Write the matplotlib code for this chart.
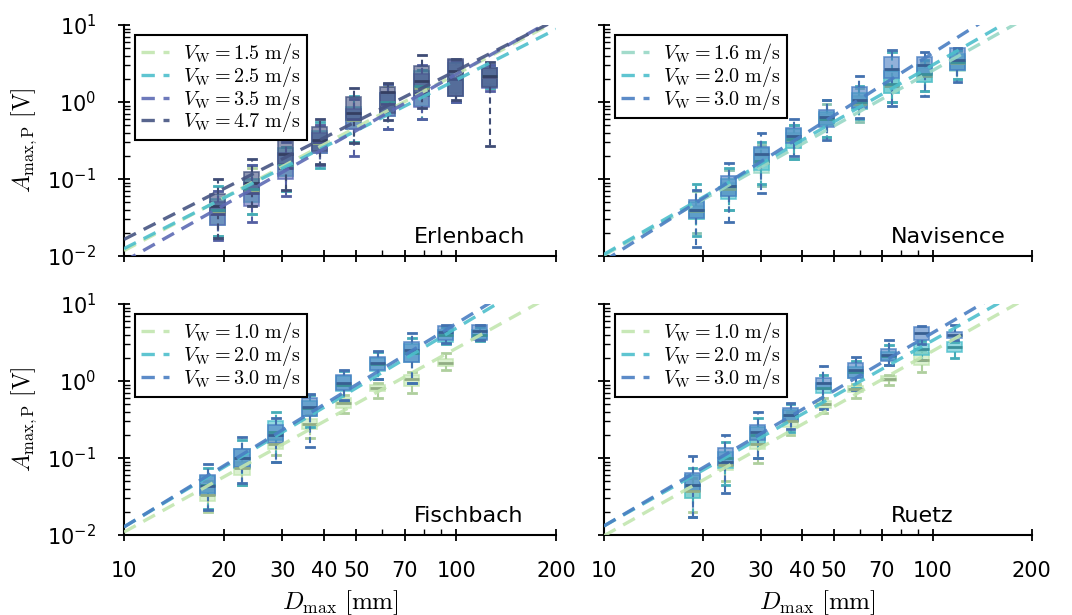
import numpy as np
import matplotlib
matplotlib.use("Agg")
import matplotlib.pyplot as plt
from matplotlib.colors import to_rgba
from matplotlib.font_manager import FontProperties
from matplotlib.ticker import FixedLocator, FixedFormatter, NullFormatter, LogLocator

plt.rcParams['font.family'] = ['DejaVu Sans']
plt.rcParams['mathtext.fontset'] = 'dejavusans'

# grain size class positions [mm] per site
erl_d = [19.2, 24.3, 30.7, 38.9, 49.2, 62.3, 78.9, 99.8, 126.4]
nav_d = [19.1, 24.0, 30.1, 37.8, 47.6, 59.8, 75.2, 94.5, 118.8]
fis_d = [17.9, 22.7, 28.7, 36.3, 46.0, 58.2, 73.7, 93.3, 118.1]
rue_d = [18.6, 23.4, 29.4, 37.0, 46.5, 58.5, 73.6, 92.6, 116.5]

# box stats: (whislo, q1, med, q3, whishi) in V, None = no data
erl_15 = [(0.018, 0.026, 0.036, 0.05, 0.07), (0.035, 0.05, 0.07, 0.1, 0.14), (0.07, 0.11, 0.15, 0.22, 0.26),
          (0.15, 0.22, 0.29, 0.4, 0.5), (0.3, 0.45, 0.58, 0.8, 1.1), (0.45, 0.65, 0.95, 1.25, 1.6),
          (0.6, 0.9, 1.5, 2.3, 2.6), (1.0, 1.3, 2.0, 3.0, 3.3), (1.5, 1.7, 2.1, 2.6, 3.0)]
erl_25 = [(0.018, 0.025, 0.04, 0.055, 0.08), (0.035, 0.05, 0.075, 0.1, 0.15), (0.07, 0.11, 0.15, 0.25, 0.26),
          (0.14, 0.22, 0.3, 0.42, 0.55), (0.3, 0.45, 0.6, 0.85, 1.2), (0.45, 0.65, 1.0, 1.3, 1.7),
          (0.6, 0.9, 1.6, 2.5, 2.6), (1.0, 1.2, 2.0, 3.2, 3.4), (1.5, 1.6, 2.2, 2.8, 3.0)]
erl_35 = [(0.016, 0.025, 0.035, 0.05, 0.07), (0.028, 0.045, 0.065, 0.09, 0.15), (0.06, 0.1, 0.14, 0.22, 0.3),
          (0.15, 0.22, 0.3, 0.4, 0.5), (0.2, 0.45, 0.6, 0.8, 1.1), (0.45, 0.65, 0.95, 1.3, 1.7),
          (0.6, 0.85, 1.3, 2.3, 3.0), (1.0, 1.2, 2.0, 3.5, 3.5), (1.4, 1.5, 2.1, 2.8, 3.0)]
erl_47 = [(0.017, 0.036, 0.045, 0.063, 0.1), (0.045, 0.07, 0.088, 0.123, 0.18), (0.073, 0.155, 0.21, 0.32, 0.35),
          (0.155, 0.23, 0.32, 0.48, 0.6), (0.29, 0.59, 0.73, 1.16, 1.52), (0.59, 0.72, 1.35, 1.58, 1.78),
          (0.84, 1.18, 1.9, 2.9, 4.1), (1.07, 1.18, 2.5, 3.6, 3.6), (0.266, 1.56, 2.2, 2.75, 3.3)]

nav_16 = [(0.02, 0.03, 0.038, 0.045, 0.07), (0.04, 0.06, 0.075, 0.09, 0.13), (0.08, 0.12, 0.16, 0.2, 0.28),
          (0.18, 0.25, 0.32, 0.4, 0.5), (0.35, 0.5, 0.6, 0.7, 0.95), (0.55, 0.8, 0.95, 1.2, 1.5),
          (1.0, 1.3, 1.6, 2.0, 2.6), (1.4, 1.8, 2.2, 2.8, 3.3), (2.0, 2.5, 3.2, 4.0, 4.6)]
nav_20 = [(0.018, 0.03, 0.04, 0.05, 0.085), (0.04, 0.055, 0.08, 0.1, 0.14), (0.085, 0.13, 0.17, 0.25, 0.3),
          (0.18, 0.25, 0.33, 0.45, 0.5), (0.35, 0.5, 0.6, 0.75, 1.05), (0.6, 0.8, 1.0, 1.3, 1.6),
          (1.0, 1.3, 1.7, 2.5, 4.5), (1.4, 1.8, 2.3, 3.0, 3.5), (2.0, 2.6, 3.3, 4.2, 4.7)]
nav_30 = [(0.013, 0.031, 0.04, 0.054, 0.072), (0.028, 0.06, 0.08, 0.11, 0.16), (0.066, 0.16, 0.21, 0.26, 0.4),
          (0.2, 0.29, 0.36, 0.46, 0.6), (0.32, 0.48, 0.63, 0.79, 1.07), (0.62, 0.83, 1.07, 1.56, 2.2),
          (0.9, 2.05, 2.7, 3.9, 4.75), (1.2, 2.3, 3.0, 3.9, 4.4), (1.8, 2.6, 3.5, 5.0, 5.0)]

fis_10 = [(0.02, 0.028, 0.033, 0.04, 0.05), (0.045, 0.06, 0.075, 0.09, 0.1), (0.11, 0.13, 0.15, 0.18, 0.2),
          (0.18, 0.24, 0.28, 0.32, 0.36), (0.38, 0.45, 0.52, 0.6, 0.65), (0.6, 0.75, 0.82, 0.9, 0.95),
          (0.7, 0.85, 1.05, 1.2, 1.3), (1.4, 1.55, 1.7, 1.95, 2.3), None]
fis_20 = [(0.022, 0.035, 0.045, 0.058, 0.075), (0.045, 0.075, 0.1, 0.13, 0.17), (0.09, 0.17, 0.22, 0.3, 0.39),
          (0.25, 0.35, 0.45, 0.55, 0.65), (0.55, 0.75, 0.9, 1.15, 1.35), (1.05, 1.35, 1.65, 2.0, 2.4),
          (0.95, 1.75, 2.3, 3.0, 3.6), (3.0, 3.2, 3.9, 4.6, 5.0), (3.3, 3.5, 4.0, 4.6, 5.0)]
fis_30 = [(0.021, 0.033, 0.043, 0.06, 0.083), (0.048, 0.077, 0.1, 0.13, 0.19), (0.088, 0.155, 0.2, 0.27, 0.33),
          (0.14, 0.35, 0.46, 0.6, 0.68), (0.57, 0.76, 0.93, 1.2, 1.38), (1.05, 1.39, 1.7, 2.07, 2.45),
          (0.93, 1.78, 2.5, 3.2, 4.25), (3.1, 3.4, 4.36, 5.2, 5.3), (3.4, 3.4, 4.4, 5.3, 5.3)]

rue_10 = [(0.02, 0.03, 0.037, 0.045, 0.055), (0.05, 0.07, 0.08, 0.09, 0.1), (0.085, 0.13, 0.15, 0.18, 0.2),
          (0.2, 0.25, 0.3, 0.35, 0.4), (0.38, 0.45, 0.5, 0.55, 0.6), (0.6, 0.72, 0.78, 0.85, 0.92),
          (0.9, 1.0, 1.07, 1.15, 1.2), (1.3, 1.6, 1.9, 2.3, 2.5), None]
rue_20 = [(0.017, 0.03, 0.045, 0.06, 0.075), (0.045, 0.075, 0.1, 0.12, 0.16), (0.1, 0.15, 0.2, 0.25, 0.33),
          (0.22, 0.3, 0.36, 0.42, 0.5), (0.5, 0.7, 0.82, 0.95, 1.2), (0.8, 1.1, 1.3, 1.5, 1.8),
          (1.6, 1.9, 2.1, 2.4, 2.9), (1.9, 2.2, 2.6, 3.0, 3.3), (2.0, 2.4, 2.8, 3.2, 3.2)]
rue_30 = [(0.017, 0.037, 0.045, 0.064, 0.105), (0.035, 0.081, 0.09, 0.136, 0.2), (0.1, 0.17, 0.22, 0.27, 0.4),
          (0.24, 0.3, 0.36, 0.44, 0.52), (0.43, 0.78, 0.94, 1.1, 1.57), (0.76, 1.08, 1.4, 1.7, 2.07),
          (1.6, 1.84, 2.2, 2.57, 3.4), (3.0, 3.4, 4.2, 5.1, 5.2), (3.4, 3.6, 4.0, 4.36, 5.4)]

# power-law fits: log10(A) at D = 10 mm and exponent
erl_c0 = [-1.93, -1.904, -2.07, -1.784]
erl_b = [2.29, 2.19, 2.43, 2.19]
nav_c0 = [-1.99, -1.978, -2.064]
nav_b = [2.40, 2.46, 2.70]
fis_c0 = [-1.962, -1.895, -1.895]
fis_b = [2.385, 2.58, 2.64]
rue_c0 = [-2.01, -1.883, -1.883]
rue_b = [2.40, 2.41, 2.51]

erl_v = ["1.5", "2.5", "3.5", "4.7"]
nav_v = ["1.6", "2.0", "3.0"]
fis_v = ["1.0", "2.0", "3.0"]
rue_v = ["1.0", "2.0", "3.0"]

c_green = "#c2e6b0"
c_cyan = "#4dbfcc"
c_mint = "#98d8c6"
c_blue = "#4a7ec2"
c_violet = "#5d6ab4"
c_slate = "#465482"

xmaj = [10, 20, 30, 40, 50, 70, 100, 200]
xmin = [60, 80, 90]

legend_font = FontProperties(family='DejaVu Serif', size=14.5, math_fontfamily='cm')


def darker(c, f=0.75):
    r, g, b, _ = to_rgba(c)
    return (r * f, g * f, b * f, 1)


def draw_panel(ax, name, d, series, c0s, bs, vels, colors, xlab, ylab):
    d = np.array(d)
    for ser, col in zip(series, colors):
        stats, pos = [], []
        for di, s in zip(d, ser):
            if s is None:
                continue
            stats.append(dict(whislo=s[0], q1=s[1], med=s[2], q3=s[3], whishi=s[4], fliers=[]))
            pos.append(di)
        pos = np.array(pos)
        ax.bxp(stats, positions=pos, widths=pos * 0.105, patch_artist=True, showfliers=False,
               manage_ticks=False, zorder=2,
               boxprops=dict(facecolor=to_rgba(col, 0.6), edgecolor=to_rgba(col, 0.8), linewidth=1.2),
               medianprops=dict(color=darker(col), linewidth=2),
               whiskerprops=dict(color=darker(col, 0.9), linewidth=1.5, linestyle=(0, (3, 2))),
               capprops=dict(color=darker(col, 0.9), linewidth=2))
    xs = np.geomspace(10, 200, 100)
    for c0, b, v, col in zip(c0s, bs, vels, colors):
        ys = 10 ** (c0 + b * np.log10(xs / 10))
        ax.plot(xs, ys, color=col, lw=2.4, dashes=(4, 2.6), alpha=0.9, zorder=3,
                label=r"$V_{\mathrm{W}}=%s\ \mathrm{m/s}$" % v)

    ax.set_xscale('log')
    ax.set_yscale('log')
    ax.set_xlim(10, 200)
    ax.set_ylim(1e-2, 1e1)
    ax.spines['top'].set_visible(False)
    ax.spines['right'].set_visible(False)
    ax.spines['left'].set_linewidth(1.5)
    ax.spines['bottom'].set_linewidth(1.5)
    ax.xaxis.set_major_locator(FixedLocator(xmaj))
    ax.xaxis.set_minor_locator(FixedLocator(xmin))
    ax.xaxis.set_minor_formatter(NullFormatter())
    if xlab:
        ax.xaxis.set_major_formatter(FixedFormatter([str(x) for x in xmaj]))
        ax.set_xlabel(r"$D_{\mathrm{max}}\ [\mathrm{mm}]$", fontsize=18, math_fontfamily='cm', labelpad=5)
    else:
        ax.xaxis.set_major_formatter(NullFormatter())
    ax.yaxis.set_major_locator(LogLocator(base=10, numticks=10))
    ax.yaxis.set_minor_locator(LogLocator(base=10, subs=np.arange(2, 10), numticks=20))
    ax.yaxis.set_minor_formatter(NullFormatter())
    if ylab:
        ax.set_ylabel(r"$A_{\mathrm{max,P}}\ [\mathrm{V}]$", fontsize=17, math_fontfamily='cm', labelpad=6)
    else:
        ax.yaxis.set_major_formatter(NullFormatter())
    ax.tick_params(which='major', direction='inout', length=8, width=1.3, labelsize=15)
    ax.tick_params(which='minor', direction='in', length=4, width=1.0)
    ax.tick_params(axis='x', which='major', pad=15)
    ax.tick_params(axis='y', which='major', pad=16, labelsize=15)
    ax.text(0.67, 0.04, name, transform=ax.transAxes, fontsize=16, ha='left', va='bottom')
    leg = ax.legend(loc='upper left', bbox_to_anchor=(0.025, 0.955), borderaxespad=0, prop=legend_font,
                    handlelength=1.4, handletextpad=0.7, labelspacing=-0.12, borderpad=0.3,
                    fancybox=False, framealpha=1, edgecolor='black')
    leg.get_frame().set_linewidth(1.5)


fig = plt.figure(figsize=(10.72, 6.15), dpi=100)
ax1 = fig.add_axes([0.1157, 0.5837, 0.403, 0.3756])
ax2 = fig.add_axes([0.5634, 0.5837, 0.399, 0.3756])
ax3 = fig.add_axes([0.1157, 0.1301, 0.403, 0.3756])
ax4 = fig.add_axes([0.5634, 0.1301, 0.399, 0.3756])

draw_panel(ax1, "Erlenbach", erl_d, [erl_15, erl_25, erl_35, erl_47], erl_c0, erl_b, erl_v,
           [c_green, c_cyan, c_violet, c_slate], False, True)
draw_panel(ax2, "Navisence", nav_d, [nav_16, nav_20, nav_30], nav_c0, nav_b, nav_v,
           [c_mint, c_cyan, c_blue], False, False)
draw_panel(ax3, "Fischbach", fis_d, [fis_10, fis_20, fis_30], fis_c0, fis_b, fis_v,
           [c_green, c_cyan, c_blue], True, True)
draw_panel(ax4, "Ruetz", rue_d, [rue_10, rue_20, rue_30], rue_c0, rue_b, rue_v,
           [c_green, c_cyan, c_blue], True, False)

fig.savefig("out.png", dpi=100, facecolor='white')
